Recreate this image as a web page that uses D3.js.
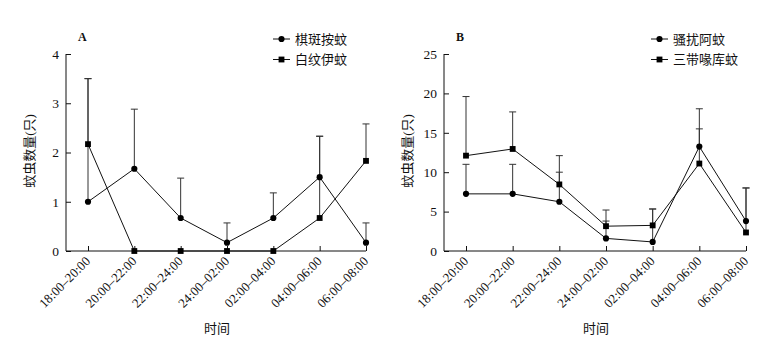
<!DOCTYPE html>
<html>
<head>
<meta charset="utf-8">
<script src="https://cdn.jsdelivr.net/npm/d3@7"></script>
<style>
  body { margin: 0; background: #fff; }
  svg { display: block; }
  text { font-family: "Liberation Serif", "Noto Sans CJK SC", serif; fill: #111; }
</style>
</head>
<body>
<script>
// time slots shared by both panels
var periods = ['18:00–20:00', '20:00–22:00', '22:00–24:00', '24:00–02:00', '02:00–04:00', '04:00–06:00', '06:00–08:00']

// panel A
var aNames = ['棋斑按蚊', '白纹伊蚊']
var aMeanCircle = [1.0, 1.67, 0.67, 0.17, 0.67, 1.5, 0.17]
var aUpperCircle = [3.5, 2.88, 1.48, 0.57, 1.18, 2.33, 0.57]
var aMeanSquare = [2.17, 0, 0, 0, 0, 0.67, 1.83]
var aUpperSquare = [3.5, 0, 0, 0, 0, 2.33, 2.58]
var aTicks = [0, 1, 2, 3, 4]

// panel B
var bNames = ['骚扰阿蚊', '三带喙库蚊']
var bMeanCircle = [7.25, 7.25, 6.25, 1.6, 1.15, 13.25, 3.8]
var bUpperCircle = [11, 11, 10, 3.8, 5.33, 15.5, 8]
var bMeanSquare = [12.1, 12.95, 8.45, 3.15, 3.25, 11.1, 2.35]
var bUpperSquare = [19.6, 17.65, 12.1, 5.2, 5.33, 18.05, 8]
var bTicks = [0, 5, 10, 15, 20, 25]

var W = 766, H = 338
var svg = d3.select('body').append('svg').attr('width', W).attr('height', H)

function drawPanel(opt) {
    var g = svg.append('g')
    var x = d3.scalePoint().domain(periods).range([opt.x0 + 22, opt.x1])
    var y = d3.scaleLinear().domain([0, opt.max]).range([251, 54])

    // axes
    var yAxis = g.append('g').attr('transform', `translate(${opt.x0},0)`)
        .call(d3.axisLeft(y).tickValues(opt.ticks).tickFormat(d3.format('d')).tickSize(-5).tickPadding(7).tickSizeOuter(0))
    var xAxis = g.append('g').attr('transform', 'translate(0,251)')
        .call(d3.axisBottom(x).tickSize(-5).tickFormat('').tickSizeOuter(0))
    g.append('line').attr('x1', opt.x0).attr('x2', opt.x1).attr('y1', 251).attr('y2', 251).attr('stroke', '#111')
    g.selectAll('.domain').remove()
    g.append('line').attr('x1', opt.x0).attr('x2', opt.x0).attr('y1', y(opt.max)).attr('y2', 251).attr('stroke', '#111')
    g.selectAll('.tick line').attr('stroke', '#111')
    yAxis.selectAll('text').attr('font-size', 13.5).attr('fill', '#111')

    // rotated period labels
    g.selectAll('.plab').data(periods).join('text')
        .attr('class', 'plab')
        .attr('transform', d => `translate(${x(d) + 3},262) rotate(-45)`)
        .attr('text-anchor', 'end')
        .attr('font-size', 13)
        .text(d => d)

    // error bars
    var series = [
        {mean: opt.mc, upper: opt.uc, sym: d3.symbolCircle},
        {mean: opt.ms, upper: opt.us, sym: d3.symbolSquare}
    ]
    series.forEach(function (s) {
        var pts = periods.map((p, i) => ({p: p, v: s.mean[i], u: s.upper[i]})).filter(d => d.u > d.v)
        g.selectAll(null).data(pts).join('line')
            .attr('x1', d => x(d.p)).attr('x2', d => x(d.p))
            .attr('y1', d => y(d.v)).attr('y2', d => y(d.u))
            .attr('stroke', '#333').attr('stroke-width', 1)
        g.selectAll(null).data(pts).join('line')
            .attr('x1', d => x(d.p) - 3.5).attr('x2', d => x(d.p) + 3.5)
            .attr('y1', d => y(d.u)).attr('y2', d => y(d.u))
            .attr('stroke', '#333').attr('stroke-width', 1)
    })
    // lines + markers
    var line = d3.line().x((d, i) => x(periods[i])).y(d => y(d))
    series.forEach(function (s) {
        g.append('path').attr('d', line(s.mean)).attr('fill', 'none').attr('stroke', '#111').attr('stroke-width', 1)
        g.selectAll(null).data(s.mean).join('path')
            .attr('transform', (d, i) => `translate(${x(periods[i])},${y(d)})`)
            .attr('d', d3.symbol().type(s.sym).size(s.sym === d3.symbolCircle ? 30 : 34))
            .attr('fill', '#000')
    })

    // legend
    series.forEach(function (s, i) {
        var ly = 39 + i * 20.5
        g.append('line').attr('x1', opt.lx).attr('x2', opt.lx + 17).attr('y1', ly).attr('y2', ly).attr('stroke', '#111')
        g.append('path').attr('transform', `translate(${opt.lx + 8.5},${ly})`)
            .attr('d', d3.symbol().type(s.sym).size(s.sym === d3.symbolCircle ? 30 : 34)).attr('fill', '#000')
        g.append('text').attr('x', opt.lx + 22).attr('y', ly + 4.5).attr('font-size', 13).text(opt.names[i])
    })

    // panel letter
    g.append('text').attr('x', opt.x0 + 12).attr('y', 41).attr('font-size', 12).attr('font-weight', 'bold').text(opt.letter)

    // axis titles
    g.append('text').attr('transform', `translate(${opt.x0 - 32},151) rotate(-90)`)
        .attr('text-anchor', 'middle').attr('font-size', 13).text('蚊虫数量(只)')
    g.append('text').attr('x', (opt.x0 + opt.x1) / 2 + 1).attr('y', 333)
        .attr('text-anchor', 'middle').attr('font-size', 13).text('时间')
}

drawPanel({x0: 66, x1: 366, max: 4, ticks: aTicks, mc: aMeanCircle, uc: aUpperCircle, ms: aMeanSquare, us: aUpperSquare, names: aNames, lx: 273, letter: 'A'})
drawPanel({x0: 444, x1: 746, max: 25, ticks: bTicks, mc: bMeanCircle, uc: bUpperCircle, ms: bMeanSquare, us: bUpperSquare, names: bNames, lx: 651, letter: 'B'})
</script>
</body>
</html>
